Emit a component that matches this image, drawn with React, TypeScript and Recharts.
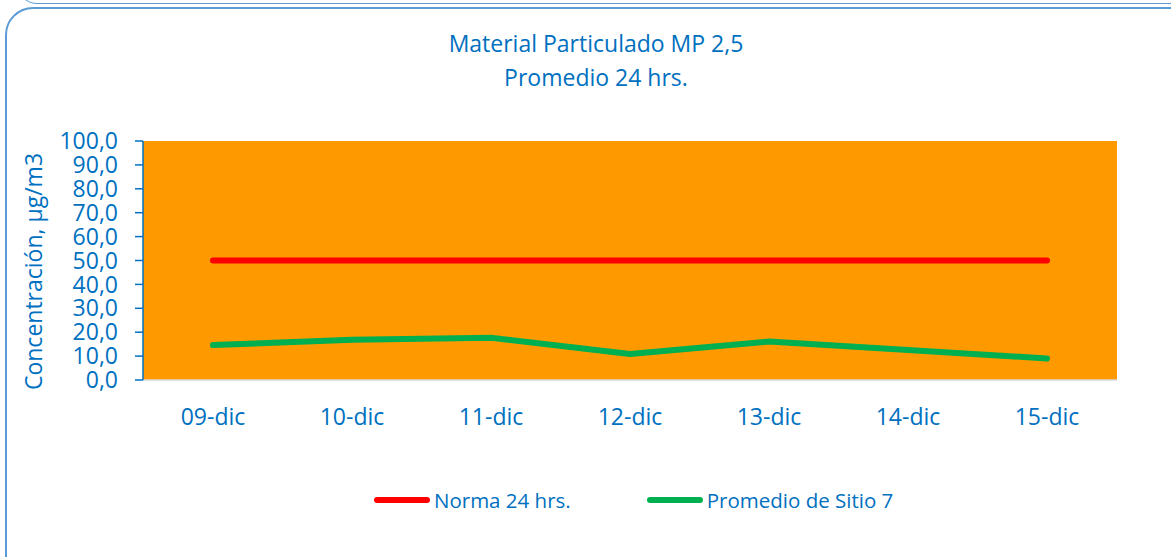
import { LineChart, Line, XAxis, YAxis, CartesianGrid } from "recharts";

const dias = ["09-dic", "10-dic", "11-dic", "12-dic", "13-dic", "14-dic", "15-dic"];
const norma24 = [50, 50, 50, 50, 50, 50, 50];
const promedioSitio7 = [14.6, 16.8, 17.7, 10.9, 16.1, 12.6, 9.0];
const yTicks = [0, 10, 20, 30, 40, 50, 60, 70, 80, 90, 100];

const NORMA_NAME = "Norma 24 hrs.";
const SITIO_NAME = "Promedio de Sitio 7";

const BLUE = "#0070C0";
const FONT = "'Open Sans', 'Noto Sans', sans-serif";

const chartData = dias.map((dia, i) => ({
  dia,
  norma: norma24[i],
  sitio: promedioSitio7[i],
}));

function YLabel({ viewBox }: any) {
  const cx = 42;
  const cy = viewBox.y + viewBox.height / 2 + 11;
  return (
    <text
      x={cx}
      y={cy}
      transform={`rotate(-90, ${cx}, ${cy})`}
      textAnchor="middle"
      fill={BLUE}
      fontSize={23}
      fontFamily={FONT}
    >
      Concentración, µg/m3
    </text>
  );
}

function LegendItem({ color, label }: { color: string; label: string }) {
  return (
    <div style={{ display: "flex", alignItems: "center" }}>
      <div style={{ width: 56, height: 6, borderRadius: 3, background: color, marginRight: 4 }} />
      <span>{label}</span>
    </div>
  );
}

export default function App() {
  return (
    <div
      style={{
        position: "absolute",
        left: 0,
        top: 0,
        width: 1171,
        height: 557,
        overflow: "hidden",
        background: "#fff",
        fontFamily: FONT,
      }}
    >
      {/* previous box edge at the top */}
      <div
        style={{
          position: "absolute",
          left: 17,
          top: -40,
          width: 1170,
          height: 42,
          border: "1.5px solid #5B9BD5",
          borderRadius: 20,
        }}
      />
      {/* chart frame */}
      <div
        style={{
          position: "absolute",
          left: 5,
          top: 7,
          width: 1200,
          height: 580,
          border: "2px solid #5B9BD5",
          borderRadius: 28,
          boxSizing: "border-box",
        }}
      />

      <div
        style={{
          position: "absolute",
          left: 0,
          top: 26,
          width: 1192,
          textAlign: "center",
          color: BLUE,
          fontSize: 23,
          lineHeight: "34px",
        }}
      >
        <div>Material Particulado MP 2,5</div>
        <div>Promedio 24 hrs.</div>
      </div>

      <div style={{ position: "absolute", left: 0, top: 0 }}>
        <LineChart
          width={1171}
          height={557}
          data={chartData}
          margin={{ top: 141, right: 54, bottom: 137, left: 20 }}
        >
          <CartesianGrid fill="#FF9900" horizontal={false} vertical={false} />
          <XAxis
            dataKey="dia"
            height={40}
            padding={{ left: 70, right: 70 }}
            axisLine={{ stroke: "#D9D9D9", strokeWidth: 1.5 }}
            tickLine={false}
            tickMargin={23}
            tick={{ fill: BLUE, fontSize: 23, fontFamily: FONT }}
            interval={0}
          />
          <YAxis
            width={123}
            domain={[0, 100]}
            ticks={yTicks}
            interval={0}
            tickFormatter={(v: number) => v.toFixed(1).replace(".", ",")}
            axisLine={{ stroke: BLUE, strokeWidth: 1.5 }}
            tickLine={{ stroke: BLUE, strokeWidth: 1.5 }}
            tickSize={8}
            tickMargin={17}
            tick={{ fill: BLUE, fontSize: 23, fontFamily: FONT }}
            label={<YLabel />}
          />
          <Line
            dataKey="norma"
            name={NORMA_NAME}
            stroke="#FF0000"
            strokeWidth={6}
            strokeLinecap="round"
            dot={false}
            activeDot={false}
            isAnimationActive={false}
          />
          <Line
            dataKey="sitio"
            name={SITIO_NAME}
            stroke="#00B050"
            strokeWidth={6}
            strokeLinecap="round"
            strokeLinejoin="round"
            dot={false}
            activeDot={false}
            isAnimationActive={false}
          />
        </LineChart>
      </div>

      <div
        style={{
          position: "absolute",
          left: 374,
          top: 485,
          height: 30,
          display: "flex",
          alignItems: "center",
          gap: 76,
          color: BLUE,
          fontSize: 20.5,
        }}
      >
        <LegendItem color="#FF0000" label={NORMA_NAME} />
        <LegendItem color="#00B050" label={SITIO_NAME} />
      </div>
    </div>
  );
}
